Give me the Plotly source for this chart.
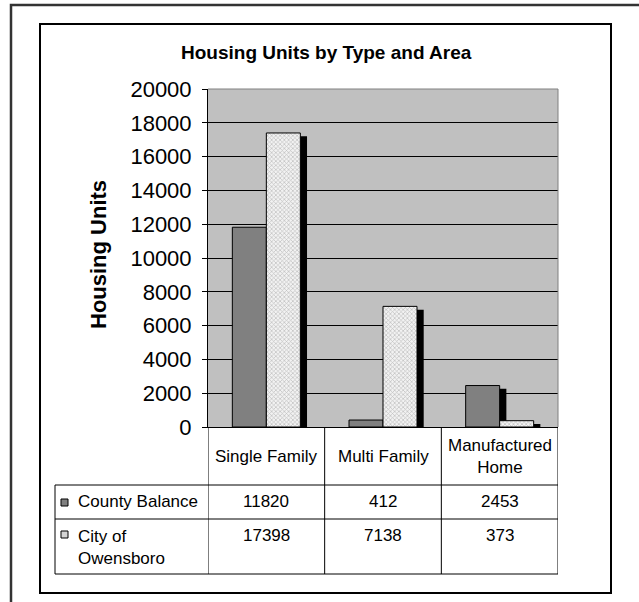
import plotly.graph_objects as go

# ---- data -------------------------------------------------------------
categories = ["Single Family", "Multi Family", "Manufactured Home"]
header_labels = ["Single Family", "Multi Family", "Manufactured<br>Home"]
series_names = ["County Balance", "City of<br>Owensboro"]
county_balance = [11820, 412, 2453]
city_of_owensboro = [17398, 7138, 373]
y_ticks = list(range(0, 20001, 2000))

# ---- page geometry (pixels) ------------------------------------------
W, H = 639, 602
PL, PR, PT, PB = 208, 558, 89, 427          # plot area edges
FONT = "Liberation Sans, Arial, sans-serif"


def px_x(px):
    return (px - PL) / (PR - PL)


def px_y(py):
    return (PB - py) / (PB - PT)


cat_px = (PR - PL) / len(categories)
bar_w = 34 / cat_px                  # bar width in category units
shadow_dx = 6.7 / cat_px             # shadow shift to the right
shadow_dy = 3.3 * 20000 / (PB - PT)  # shadow drop, in value units

city_pattern = dict(shape="x", fgcolor="#8a8a8a", bgcolor="#f2f2f2",
                    size=3, solidity=0.4)

fig = go.Figure()

# drop shadows sit behind each bar
fig.add_trace(go.Bar(
    x=categories, y=[v - shadow_dy for v in county_balance],
    offset=-bar_w + shadow_dx, width=bar_w,
    marker=dict(color="black", line=dict(width=0)),
    hoverinfo="skip", showlegend=False))
fig.add_trace(go.Bar(
    x=categories, y=county_balance, name="County Balance",
    offset=-bar_w, width=bar_w,
    marker=dict(color="#808080", line=dict(color="black", width=1)),
    showlegend=False))
fig.add_trace(go.Bar(
    x=categories, y=[v - shadow_dy for v in city_of_owensboro],
    offset=shadow_dx, width=bar_w,
    marker=dict(color="black", line=dict(width=0)),
    hoverinfo="skip", showlegend=False))
fig.add_trace(go.Bar(
    x=categories, y=city_of_owensboro, name="City of Owensboro",
    offset=0, width=bar_w,
    marker=dict(color="#ffffff", line=dict(color="black", width=1),
                pattern=city_pattern),
    showlegend=False))

shapes = []
# outer and inner frames
shapes.append(dict(type="rect", xref="paper", yref="paper",
                   x0=px_x(11), x1=px_x(660), y0=px_y(620), y1=px_y(5),
                   line=dict(color="#333333", width=2.5), layer="above"))
shapes.append(dict(type="rect", xref="paper", yref="paper",
                   x0=px_x(40), x1=px_x(611), y0=px_y(593), y1=px_y(24),
                   line=dict(color="black", width=2), layer="above"))
# plot area border (top / right)
shapes.append(dict(type="path", xref="paper", yref="paper",
                   path="M 0,1 L 1,1 L 1,0",
                   line=dict(color="#808080", width=1), layer="above"))

# data table grid
TBL_L, HDR_B, ROW1_B, ROW2_B = 55, 485, 519, 574
for i in range(len(categories) + 1):
    shapes.append(dict(type="line", xref="x", yref="paper",
                       x0=i - 0.5, x1=i - 0.5, y0=px_y(PB), y1=px_y(ROW2_B),
                       line=dict(color="black", width=1)))
for yb in (HDR_B, ROW1_B, ROW2_B):
    shapes.append(dict(type="line", xref="paper", yref="paper",
                       x0=px_x(TBL_L), x1=1, y0=px_y(yb), y1=px_y(yb),
                       line=dict(color="black", width=1)))
shapes.append(dict(type="line", xref="paper", yref="paper",
                   x0=px_x(TBL_L), x1=px_x(TBL_L), y0=px_y(HDR_B), y1=px_y(ROW2_B),
                   line=dict(color="black", width=1)))
# legend keys inside the table
shapes.append(dict(type="rect", xref="paper", yref="paper",
                   x0=px_x(61), x1=px_x(68), y0=px_y(506), y1=px_y(499),
                   fillcolor="#808080", line=dict(color="black", width=1)))
shapes.append(dict(type="rect", xref="paper", yref="paper",
                   x0=px_x(61), x1=px_x(68), y0=px_y(538), y1=px_y(531),
                   fillcolor="#d4d4d4", line=dict(color="black", width=1)))

annotations = []
annotations.append(dict(text="<b>Housing Units by Type and Area</b>",
                        xref="paper", yref="paper", x=px_x(326), y=px_y(52),
                        xanchor="center", yanchor="middle", showarrow=False,
                        font=dict(family=FONT, size=19, color="black")))
annotations.append(dict(text="<b>Housing Units</b>", textangle=-90,
                        xref="paper", yref="paper", x=px_x(99), y=px_y(255),
                        xanchor="center", yanchor="middle", showarrow=False,
                        font=dict(family=FONT, size=22, color="black")))
for i, lab in enumerate(header_labels):
    annotations.append(dict(text=lab, xref="x", yref="paper", x=i, y=px_y(456),
                            xanchor="center", yanchor="middle", showarrow=False,
                            font=dict(family=FONT, size=17, color="black")))
for i, v in enumerate(county_balance):
    annotations.append(dict(text=str(v), xref="x", yref="paper", x=i, y=px_y(502),
                            xanchor="center", yanchor="middle", showarrow=False,
                            font=dict(family=FONT, size=17, color="black")))
for i, v in enumerate(city_of_owensboro):
    annotations.append(dict(text=str(v), xref="x", yref="paper", x=i, y=px_y(535),
                            xanchor="center", yanchor="middle", showarrow=False,
                            font=dict(family=FONT, size=17, color="black")))
annotations.append(dict(text=series_names[0], xref="paper", yref="paper",
                        x=px_x(76), y=px_y(502), xanchor="left", yanchor="middle",
                        showarrow=False, align="left",
                        font=dict(family=FONT, size=17, color="black")))
annotations.append(dict(text=series_names[1], xref="paper", yref="paper",
                        x=px_x(76), y=px_y(547), xanchor="left", yanchor="middle",
                        showarrow=False, align="left",
                        font=dict(family=FONT, size=17, color="black")))

fig.update_layout(
    width=W, height=H,
    margin=dict(l=PL, r=W - PR, t=PT, b=H - PB, pad=0),
    paper_bgcolor="white", plot_bgcolor="#c0c0c0",
    barmode="overlay",
    font=dict(family=FONT, color="black"),
    shapes=shapes, annotations=annotations,
    xaxis=dict(type="category", range=[-0.5, 2.5], showticklabels=False,
               ticks="", showgrid=False, zeroline=False,
               showline=True, linecolor="black", linewidth=1, fixedrange=True),
    yaxis=dict(range=[0, 20000], tickvals=y_ticks, tickformat="d",
               ticks="outside", ticklen=5,
               tickcolor="black", tickwidth=1, tickfont=dict(size=22),
               showgrid=True, gridcolor="black", gridwidth=1, zeroline=False,
               showline=True, linecolor="black", linewidth=1,
               ticklabelstandoff=6, fixedrange=True),
)

fig.write_html("out.html")
